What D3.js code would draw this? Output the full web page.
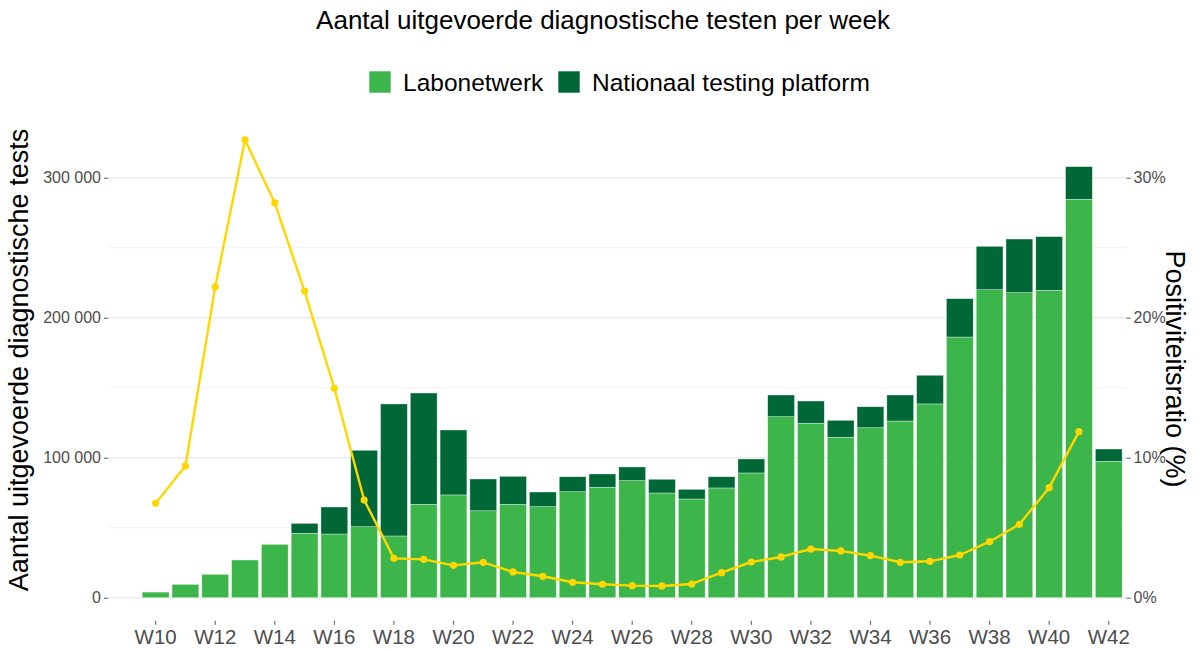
<!DOCTYPE html>
<html>
<head>
<meta charset="utf-8">
<script src="https://cdn.jsdelivr.net/npm/d3@7/dist/d3.min.js"></script>
<style>
  body { margin: 0; background: #fff; }
  svg { display: block; font-family: "Liberation Sans", Arial, sans-serif; }
</style>
</head>
<body>
<svg id="chart" width="1201" height="650"></svg>
<script>
// ---- Data ----
const weeks = ["W09","W10","W11","W12","W13","W14","W15","W16","W17","W18","W19","W20","W21",
  "W22","W23","W24","W25","W26","W27","W28","W29","W30","W31","W32","W33","W34","W35","W36",
  "W37","W38","W39","W40","W41","W42"];
const labonetwerk = [null,4000,9500,16700,26900,38100,46000,45500,50700,44100,66700,73400,62100,
  66700,65000,75700,78900,83600,74800,70500,78400,89100,129300,124600,114600,121400,126200,138400,
  186200,220000,217900,219600,284600,97400];
const nationaalPlatform = [null,0,0,0,0,0,7100,19300,54600,94300,79500,46400,22700,
  20000,10500,10700,9500,9800,9800,6900,8000,10000,15500,15900,12100,15000,18600,20500,
  27400,31000,38300,38300,23300,8800];
const positiviteit = [null,6.74,9.41,22.2,32.7,28.2,21.9,14.96,6.98,2.81,2.74,2.31,2.53,
  1.84,1.53,1.10,0.96,0.86,0.84,0.98,1.79,2.55,2.91,3.48,3.34,3.0,2.53,2.6,
  3.05,4.0,5.24,7.86,11.86,null];
const xTickLabels = ["W10","W12","W14","W16","W18","W20","W22","W24","W26","W28","W30",
  "W32","W34","W36","W38","W40","W42"];
const yTicks = [0,100000,200000,300000];
const yMinorTicks = [50000,150000,250000];
const y2Ticks = [0,10,20,30];
const seriesNames = ["Labonetwerk","Nationaal testing platform"];
const seriesColors = ["#3cb54a","#006837"];

// ---- Layout ----
const svg = d3.select("#chart");
const panel = {left: 108, right: 1126.6, top: 118.5, bottom: 620.8};

const x = d3.scaleBand().domain(weeks).range([panel.left, panel.right])
  .paddingInner(0.1).paddingOuter(0.15);
const y = d3.scaleLinear().domain([0, 300000]).range([597.7, 177.7]);
const y2 = d3.scaleLinear().domain([0, 30]).range([597.7, 177.7]);

// gridlines
svg.append("g").selectAll("line").data(yMinorTicks).join("line")
  .attr("x1", panel.left).attr("x2", panel.right)
  .attr("y1", d => y(d)).attr("y2", d => y(d))
  .attr("stroke", "#f2f2f2").attr("stroke-width", 1);
svg.append("g").selectAll("line").data(yTicks).join("line")
  .attr("x1", panel.left).attr("x2", panel.right)
  .attr("y1", d => y(d)).attr("y2", d => y(d))
  .attr("stroke", "#ebebeb").attr("stroke-width", 1.4);

// stacked bars
const rows = weeks.map((w, i) => ({week: w, lab: labonetwerk[i], ntp: nationaalPlatform[i]}))
  .filter(d => d.lab != null);
const stack = d3.stack().keys(["lab","ntp"])(rows);
svg.append("g").selectAll("g").data(stack).join("g")
  .attr("fill", (d, i) => seriesColors[i])
  .selectAll("rect").data(d => d.filter(s => s[1] - s[0] > 0)).join("rect")
  .attr("x", d => x(d.data.week))
  .attr("width", x.bandwidth())
  .attr("y", d => y(d[1]))
  .attr("height", d => y(d[0]) - y(d[1]))
  .attr("stroke", "#ffffff").attr("stroke-width", 0.6).attr("stroke-opacity", 0.6);

// positivity line
const pts = weeks.map((w, i) => ({week: w, v: positiviteit[i]})).filter(d => d.v != null);
const line = d3.line().x(d => x(d.week) + x.bandwidth() / 2).y(d => y2(d.v));
svg.append("path").datum(pts).attr("d", line)
  .attr("fill", "none").attr("stroke", "#ffd700").attr("stroke-width", 2.4)
  .attr("stroke-linejoin", "round");
svg.append("g").selectAll("circle").data(pts).join("circle")
  .attr("cx", d => x(d.week) + x.bandwidth() / 2).attr("cy", d => y2(d.v))
  .attr("r", 3.6).attr("fill", "#ffd700");

// axes
const fmt = d => d3.format(",")(d).replace(/,/g, " ");
const axL = svg.append("g").attr("transform", `translate(${panel.left},0)`)
  .call(d3.axisLeft(y).tickValues(yTicks).tickFormat(fmt).tickSize(4).tickPadding(3));
const axR = svg.append("g").attr("transform", `translate(${panel.right},0)`)
  .call(d3.axisRight(y2).tickValues(y2Ticks).tickFormat(d => d + "%").tickSize(4).tickPadding(3));
const axB = svg.append("g").attr("transform", `translate(0,${panel.bottom})`)
  .call(d3.axisBottom(x).tickValues(xTickLabels).tickSize(4).tickPadding(5));
[axL, axR, axB].forEach(a => {
  a.select(".domain").remove();
  a.selectAll(".tick line").attr("stroke", "#555555").attr("stroke-width", 1);
  a.selectAll(".tick text").attr("fill", "#4d4d4d").attr("font-family", "Liberation Sans, Arial, sans-serif");
});
axL.selectAll(".tick text").attr("font-size", 16);
axR.selectAll(".tick text").attr("font-size", 16);
axB.selectAll(".tick text").attr("font-size", 20.5);

// titles
svg.append("text").attr("x", 603).attr("y", 29).attr("text-anchor", "middle")
  .attr("font-size", 26).attr("fill", "#000").text("Aantal uitgevoerde diagnostische testen per week");
svg.append("text").attr("transform", "translate(28,360) rotate(-90)").attr("text-anchor", "middle")
  .attr("font-size", 27).attr("fill", "#000").text("Aantal uitgevoerde diagnostische tests");
svg.append("text").attr("transform", "translate(1166,369) rotate(90)").attr("text-anchor", "middle")
  .attr("font-size", 27).attr("fill", "#000").text("Positiviteitsratio (%)");

// legend
const legX = [369, 558];
const lg = svg.append("g").selectAll("g").data(seriesNames).join("g")
  .attr("transform", (d, i) => `translate(${legX[i]},71)`);
lg.append("rect").attr("width", 22).attr("height", 22)
  .attr("fill", (d, i) => seriesColors[i]).attr("stroke", "#fff").attr("stroke-width", 0.6);
lg.append("text").attr("x", 34).attr("y", 20).attr("font-size", 24.5).attr("fill", "#000")
  .text(d => d);
</script>
</body>
</html>
